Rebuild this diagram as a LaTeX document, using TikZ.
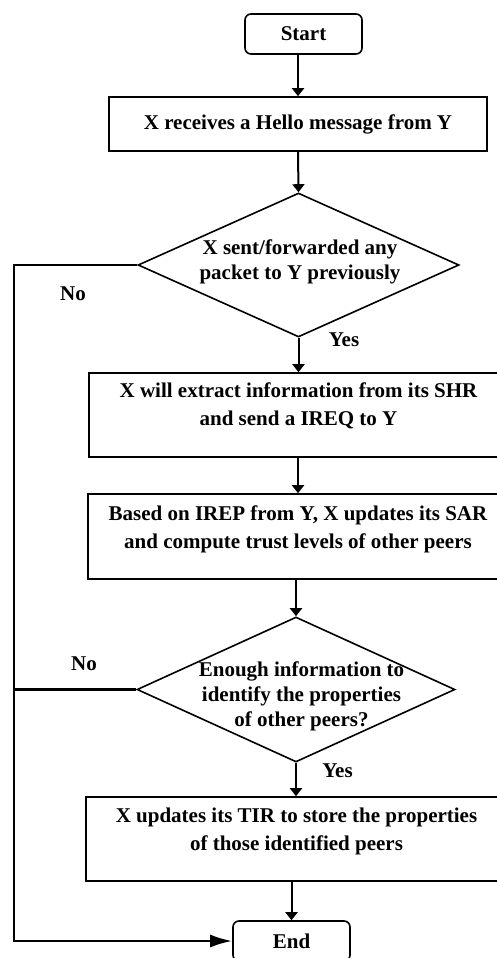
\documentclass[tikz,border=0pt]{standalone}
\usepackage{fontspec}
\setmainfont{Liberation Serif}
\usetikzlibrary{shapes.geometric,arrows.meta,calc}
\begin{document}
\begin{tikzpicture}[x=1pt,y=-1pt]
\tikzset{
  base/.style={font=\bfseries\fontsize{21}{28}\selectfont, align=center, inner sep=0pt},
  dtext/.style={font=\bfseries\fontsize{21}{25}\selectfont, align=center, inner sep=0pt},
  proc/.style={draw, line width=1.6pt, inner sep=0pt},
  term/.style={proc, rounded corners=6pt},
  dec/.style={draw, diamond, line width=1.6pt, inner sep=0pt, aspect=2.2},
  flow/.style={line width=2pt, -{Triangle[width=12pt,length=8pt]}},
  back/.style={line width=2.5pt},
  bigtip/.style={-{Latex[length=22pt,width=13pt]}}
}
\useasboundingbox (0,0) rectangle (497,958);

% nodes
\node[term, base, minimum width=117pt, minimum height=40pt] (start) at (303.5,34) {Start};
\node[proc, base, minimum width=378pt, minimum height=54pt] (b1) at (298,124) {X receives a Hello message from Y};
\node[dec, minimum width=321pt, minimum height=144pt] (d1) at (298.5,265) {};
\node[dtext] (t1) at (300,262) {X sent/forwarded any\\packet to Y previously};
\node[proc, minimum width=418pt, minimum height=84pt] (b2) at (298,415) {};
\node[base] (t2) at (298.5,406) {X will extract information from its SHR\\and send a IREQ to Y};
\node[proc, minimum width=420pt, minimum height=85pt] (b3) at (298,536.5) {};
\node[base] (t3) at (298,529) {Based on IREP from Y, X updates its SAR\\and compute trust levels of other peers};
\node[dec, minimum width=318pt, minimum height=145pt] (d2) at (296,689.5) {};
\node[dtext] (t4) at (301.5,696) {Enough information to\\identify the properties\\of other peers?};
\node[proc, minimum width=424pt, minimum height=84pt] (b4) at (298,839) {};
\node[base] (t5) at (296.5,831) {X updates its TIR to store the properties\\of those identified peers};
\node[term, base, minimum width=117pt, minimum height=40pt] (end) at (291.5,941) {End};

% labels
\node[base] (no1) at (73,294) {No};
\node[base] (yes1) at (344,340) {Yes};
\node[base] (no2) at (84,664) {No};
\node[base] (yes2) at (337.5,771) {Yes};

\coordinate (rail) at (14,0);

% connectors
\draw[flow] (start.south -| b1.north) -- (b1.north);
\draw[flow] (b1.south) -- (d1.north);
\draw[flow] (d1.south) -- (d1.south |- b2.north);
\draw[flow] (b2.south) -- (b2.south |- b3.north);
\draw[flow] (b3.south -| d2.north) -- (d2.north);
\draw[flow] (d2.south) -- (d2.south |- b4.north);
\draw[flow] (b4.south -| end.north) -- (end.north);
\draw[back, bigtip] (d1.west) -- (d1.west -| rail) -- (end.west -| rail) -- (end.west);
\draw[back] (d2.west) -- (d2.west -| rail);
\end{tikzpicture}
\end{document}
